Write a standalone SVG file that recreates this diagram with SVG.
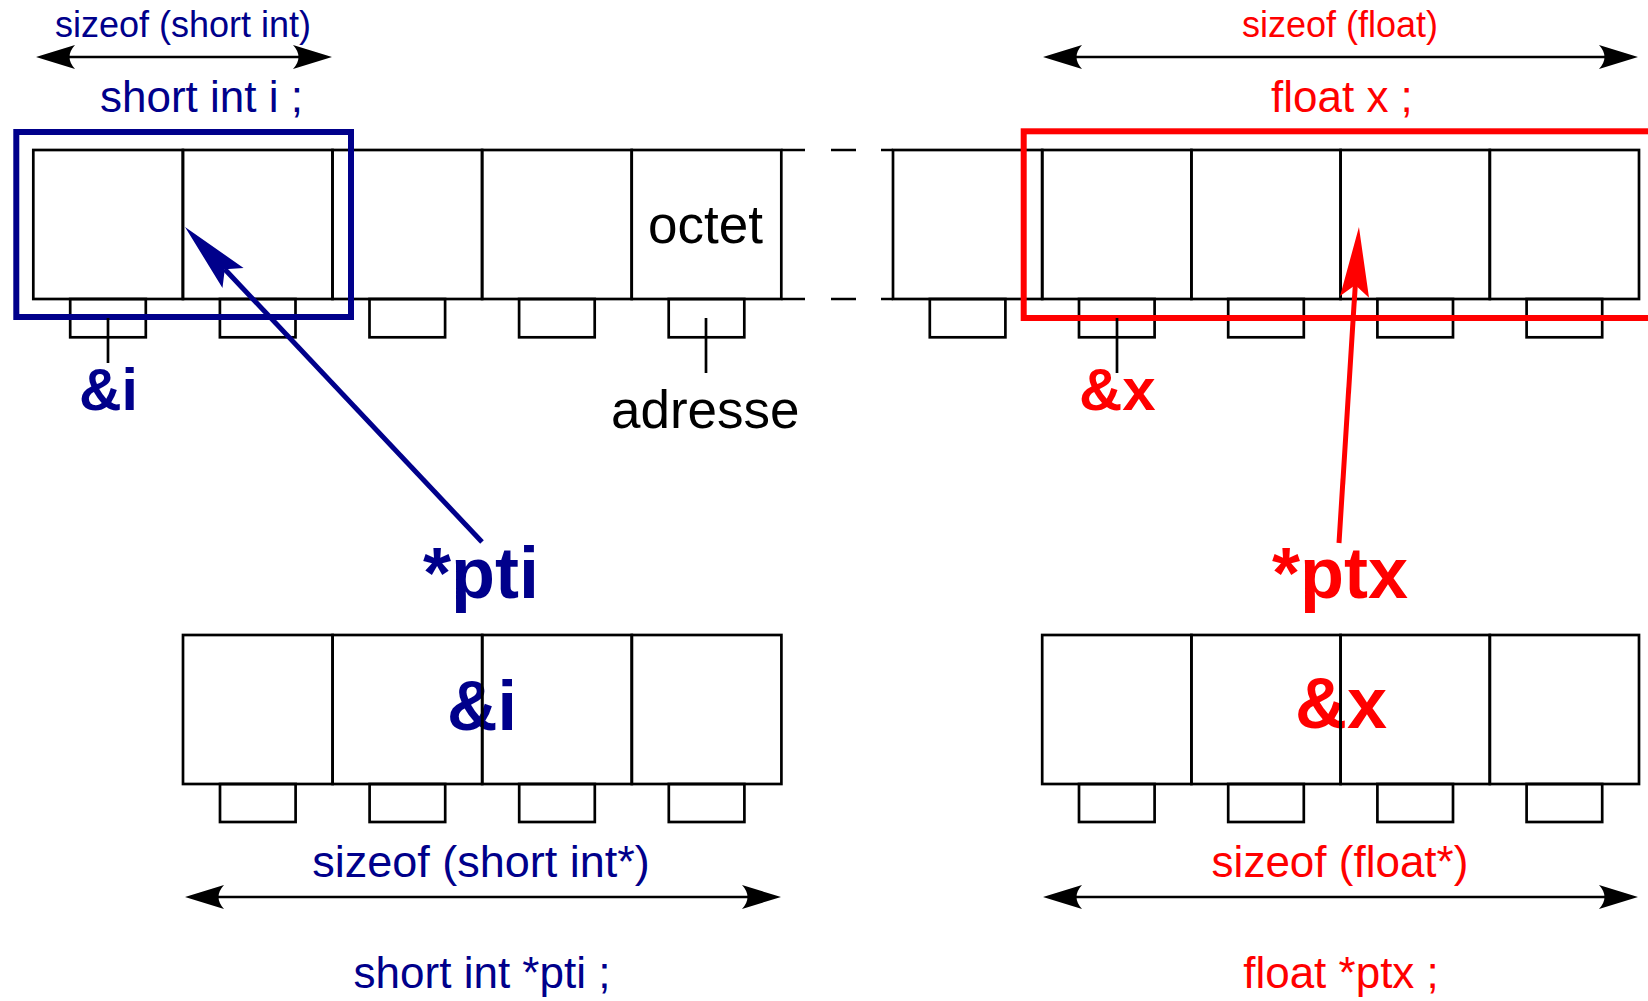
<svg xmlns="http://www.w3.org/2000/svg" width="1648" height="1001" viewBox="0 0 1648 1001">
<style>
text{font-family:"Liberation Sans",Arial,sans-serif}
.b{fill:#00008b}
.r{fill:#ff0000}
.k{fill:#000}
.bold{font-weight:bold}
.cell{fill:none;stroke:#000;stroke-width:2.7}
.ln{fill:none;stroke:#000;stroke-width:2.7}
.dim{fill:none;stroke:#000;stroke-width:2.5}
.selB{fill:none;stroke:#00008b;stroke-width:6}
.selR{fill:none;stroke:#ff0000;stroke-width:6}
.ptrB{fill:none;stroke:#00008b;stroke-width:5}
.ptrR{fill:none;stroke:#ff0000;stroke-width:5}
</style>
<defs>
<marker id="dimHead" markerUnits="userSpaceOnUse" viewBox="-40 -13 41 26" markerWidth="41" markerHeight="26" refX="-31" refY="0" orient="auto-start-reverse">
<path d="M0,0 L-39,-12 Q-28,0 -39,12 Z" fill="#000"/>
</marker>
<marker id="headB" markerUnits="userSpaceOnUse" viewBox="-72 -16 73 32" markerWidth="73" markerHeight="32" refX="-58" refY="0" orient="auto">
<path d="M0,0 L-70,-14.5 L-58,0 L-70,14.5 Z" fill="#00008b"/>
</marker>
<marker id="headR" markerUnits="userSpaceOnUse" viewBox="-72 -16 73 32" markerWidth="73" markerHeight="32" refX="-58" refY="0" orient="auto">
<path d="M0,0 L-70,-14.5 L-58,0 L-70,14.5 Z" fill="#ff0000"/>
</marker>
</defs>
<rect width="1648" height="1001" fill="#fff"/>

<g id="memory">
<rect class="cell" x="33.3" y="150" width="149.6" height="149"/>
<rect class="cell" x="182.9" y="150" width="149.6" height="149"/>
<rect class="cell" x="332.5" y="150" width="149.6" height="149"/>
<rect class="cell" x="482.1" y="150" width="149.6" height="149"/>
<rect class="cell" x="631.7" y="150" width="149.6" height="149"/>
<rect class="cell" x="70.2" y="299" width="75.6" height="38.3"/>
<rect class="cell" x="219.9" y="299" width="75.6" height="38.3"/>
<rect class="cell" x="369.5" y="299" width="75.6" height="38.3"/>
<rect class="cell" x="519.1" y="299" width="75.6" height="38.3"/>
<rect class="cell" x="668.7" y="299" width="75.6" height="38.3"/>
<path class="ln" d="M781.3,150 H805 M831,150 H856 M881,150 H893 M781.3,299 H805 M831,299 H856 M881,299 H893"/>
<rect class="cell" x="893" y="150" width="149.2" height="149"/>
<rect class="cell" x="1042.2" y="150" width="149.2" height="149"/>
<rect class="cell" x="1191.4" y="150" width="149.2" height="149"/>
<rect class="cell" x="1340.6" y="150" width="149.2" height="149"/>
<rect class="cell" x="1489.8" y="150" width="149.2" height="149"/>
<rect class="cell" x="929.8" y="299" width="75.6" height="38.3"/>
<rect class="cell" x="1079" y="299" width="75.6" height="38.3"/>
<rect class="cell" x="1228.2" y="299" width="75.6" height="38.3"/>
<rect class="cell" x="1377.4" y="299" width="75.6" height="38.3"/>
<rect class="cell" x="1526.6" y="299" width="75.6" height="38.3"/>
<text class="k" x="648" y="243" font-size="53">octet</text>
<path class="ln" d="M706,318 V373"/>
<text class="k" x="611" y="428" font-size="53">adresse</text>
</g>

<g id="var-i">
<text class="b" x="183" y="37" font-size="36" text-anchor="middle">sizeof (short int)</text>
<text class="b" x="100" y="112" font-size="44">short int i ;</text>
<rect class="selB" x="16.3" y="132" width="334.7" height="185"/>
<path class="ln" d="M108,318 V363"/>
<text class="b bold" x="79" y="410" font-size="59">&amp;i</text>
</g>

<g id="var-x">
<text class="r" x="1340" y="37" font-size="36" text-anchor="middle">sizeof (float)</text>
<text class="r" x="1271" y="112" font-size="44">float x ;</text>
<rect class="selR" x="1023.7" y="131.3" width="660" height="186.7"/>
<path class="ln" d="M1117,318 V373"/>
<text class="r bold" x="1079" y="410" font-size="60">&amp;x</text>
</g>

<g id="ptr-pti">
<text class="b bold" x="423" y="598" font-size="72">*pti</text>
<text class="b bold" x="482" y="730" font-size="70" text-anchor="middle">&amp;i</text>
<rect class="cell" x="183" y="635" width="149.6" height="149"/>
<rect class="cell" x="332.6" y="635" width="149.6" height="149"/>
<rect class="cell" x="482.2" y="635" width="149.6" height="149"/>
<rect class="cell" x="631.8" y="635" width="149.6" height="149"/>
<rect class="cell" x="220" y="784" width="75.6" height="38"/>
<rect class="cell" x="369.6" y="784" width="75.6" height="38"/>
<rect class="cell" x="519.2" y="784" width="75.6" height="38"/>
<rect class="cell" x="668.8" y="784" width="75.6" height="38"/>
<text class="b" x="481" y="877" font-size="45" text-anchor="middle">sizeof (short int*)</text>
<text class="b" x="482" y="988" font-size="44" text-anchor="middle">short int *pti ;</text>
</g>

<g id="ptr-ptx">
<text class="r bold" x="1272" y="598" font-size="72">*ptx</text>
<text class="r bold" x="1341" y="728" font-size="72" text-anchor="middle">&amp;x</text>
<rect class="cell" x="1042.2" y="635" width="149.2" height="149"/>
<rect class="cell" x="1191.4" y="635" width="149.2" height="149"/>
<rect class="cell" x="1340.6" y="635" width="149.2" height="149"/>
<rect class="cell" x="1489.8" y="635" width="149.2" height="149"/>
<rect class="cell" x="1079" y="784" width="75.6" height="38"/>
<rect class="cell" x="1228.2" y="784" width="75.6" height="38"/>
<rect class="cell" x="1377.4" y="784" width="75.6" height="38"/>
<rect class="cell" x="1526.6" y="784" width="75.6" height="38"/>
<text class="r" x="1340" y="877" font-size="44" text-anchor="middle">sizeof (float*)</text>
<text class="r" x="1341" y="988" font-size="44" text-anchor="middle">float *ptx ;</text>
</g>

<g id="connectors">
<path class="dim" d="M67,57 H301" marker-start="url(#dimHead)" marker-end="url(#dimHead)"/>
<path class="dim" d="M1074,57 H1607" marker-start="url(#dimHead)" marker-end="url(#dimHead)"/>
<path class="dim" d="M216,897 H750" marker-start="url(#dimHead)" marker-end="url(#dimHead)"/>
<path class="dim" d="M1074,897 H1607" marker-start="url(#dimHead)" marker-end="url(#dimHead)"/>
<path class="ptrB" d="M482,542 L224.8,269.2" marker-end="url(#headB)"/>
<path class="ptrR" d="M1339,543 L1355.3,284.9" marker-end="url(#headR)"/>
</g>
</svg>
